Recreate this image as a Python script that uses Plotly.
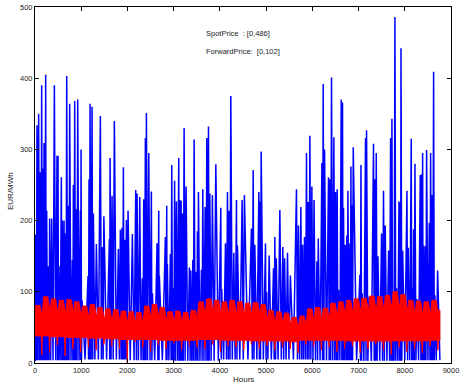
import plotly.graph_objects as go

# ---- Spot price spikes (hour, EUR/MWh) ----
spike_hours = [14, 43, 79, 115, 144, 173, 195, 231, 253, 289, 317, 361, 419, 476, 498, 520, 570, 592, 628, 657,
               686, 722, 750, 808, 830, 859, 895, 924, 981, 996, 1018, 1147, 1169, 1191, 1234, 1263, 1328, 1414, 1458, 1490,
               1609, 1624, 1667, 1717, 1804, 1847, 1883, 1912, 1941, 1977, 2013, 2107, 2179, 2208, 2266, 2323, 2352, 2388, 2410, 2461,
               2518, 2540, 2641, 2677, 2690, 2821, 2850, 2864, 2929, 2959, 2990, 3020, 3060, 3110, 3132, 3161, 3190, 3226, 3269, 3341,
               3370, 3414, 3442, 3490, 3514, 3536, 3600, 3630, 3680, 3717, 3753, 3782, 3838, 3912, 4020, 4040, 4121, 4164, 4200, 4236,
               4301, 4359, 4380, 4481, 4530, 4683, 4720, 4756, 4843, 4865, 4893, 4987, 5010, 5066, 5160, 5189, 5220, 5297, 5362, 5400,
               5463, 5525, 5657, 5700, 5752, 5790, 5830, 5874, 5910, 5947, 5990, 6037, 6100, 6128, 6207, 6235, 6264, 6350, 6378, 6415,
               6466, 6502, 6538, 6567, 6625, 6653, 6675, 6711, 6747, 6770, 6812, 6835, 6857, 6885, 7030, 7052, 7080, 7151, 7173, 7230,
               7324, 7353, 7383, 7419, 7498, 7540, 7577, 7650, 7693, 7722, 7750, 7787, 7823, 7874, 7903, 7918, 7954, 8047, 8076, 8140,
               8162, 8191, 8220, 8263, 8335, 8364, 8386, 8407, 8443, 8472, 8530, 8559, 8588, 8624, 8653, 8710]
spike_values = [180, 334, 350, 268, 390, 273, 309, 405, 214, 136, 203, 203, 390, 291, 291, 136, 261, 200, 200, 182,
                403, 221, 364, 145, 250, 368, 216, 370, 214, 300, 88, 122, 258, 364, 360, 210, 167, 347, 163, 206,
                174, 288, 235, 340, 160, 187, 190, 275, 173, 201, 214, 181, 243, 238, 233, 119, 230, 316, 351, 295,
                241, 98, 168, 214, 123, 177, 221, 139, 153, 278, 105, 256, 227, 288, 229, 228, 210, 330, 248, 134,
                130, 145, 314, 128, 185, 240, 131, 244, 219, 316, 332, 238, 236, 279, 218, 104, 168, 240, 214, 375,
                155, 229, 165, 229, 236, 189, 271, 166, 240, 227, 297, 168, 100, 151, 133, 177, 147, 215, 163, 147,
                155, 123, 244, 193, 219, 166, 177, 295, 226, 319, 248, 229, 143, 175, 281, 392, 300, 261, 258, 401,
                317, 240, 244, 103, 370, 366, 218, 166, 179, 242, 168, 276, 222, 303, 124, 278, 98, 316, 327, 93,
                308, 258, 295, 150, 182, 242, 193, 158, 316, 343, 99, 486, 105, 227, 225, 442, 158, 242, 162, 315,
                106, 188, 280, 90, 264, 265, 295, 165, 164, 299, 197, 295, 236, 409, 95, 130]
# lowest spot level in each 1000-hour block
spot_floor = [4, 5, 4, 3, 5, 5, 4, 3, 4]
year_end = 8760

# ---- Forward price band, one value per week ----
fwd_peak = [81, 93, 90, 88, 89, 86, 80, 82, 78, 76, 75, 73, 72, 71, 80, 82, 78, 72, 73, 71,
            74, 86, 90, 88, 86, 88, 86, 84, 85, 82, 74, 72, 70, 64, 66, 76, 78, 77, 84, 86,
            88, 90, 91, 94, 93, 95, 100, 96, 88, 87, 86, 88]
fwd_top_dip = [68, 78, 76, 74, 75, 72, 67, 69, 65, 63, 62, 61, 60, 59, 66, 69, 65, 60, 61, 59,
               62, 72, 76, 74, 72, 74, 72, 70, 71, 68, 62, 60, 58, 53, 55, 63, 65, 64, 70, 72,
               74, 76, 77, 79, 78, 80, 84, 81, 74, 73, 72, 74]
fwd_base = [38, 38, 37, 37, 36, 36, 36, 35, 35, 34, 34, 33, 33, 33, 33, 33, 32, 32, 32, 32,
            32, 33, 33, 33, 32, 32, 32, 32, 31, 31, 31, 31, 31, 30, 32, 32, 32, 32, 32, 32,
            31, 31, 31, 31, 31, 31, 31, 31, 31, 31, 31, 32]
fwd_dip = [12, 14, 25, 10, 20, 15, 22, 18, 26, 24, 20, 0, 30, 22, 16, 25, 20, 28, 18, 24,
           22, 20, 26, 16, 24, 22, 18, 26, 20, 24, 18, 22, 20, 14, 26, 24, 18, 22, 16, 20,
           24, 14, 20, 26, 18, 12, 22, 16, 20, 14, 24, 18]
week_len = 168

# ---- build spot zig-zag ----
sx, sy = [0], [spot_floor[0]]
prev = 0
for h, v in zip(spike_hours, spike_values):
    mid = (prev + h) / 2
    sx.append(mid); sy.append(spot_floor[int(mid // 1000)])
    sx.append(h); sy.append(v)
    prev = h
sx.append(year_end); sy.append(spot_floor[-1])

# ---- build forward band polygon ----
ux, uy, lx, ly = [], [], [], []
for w in range(len(fwd_peak)):
    h0 = w * week_len
    for off, val in [(0, fwd_top_dip[w]), (18, fwd_peak[w]), (110, fwd_peak[w]), (145, fwd_top_dip[w])]:
        if h0 + off <= year_end:
            ux.append(h0 + off); uy.append(val)
    for off, val in [(0, fwd_base[w]), (135, fwd_base[w]), (148, fwd_dip[w]), (160, fwd_base[w])]:
        if h0 + off <= year_end:
            lx.append(h0 + off); ly.append(val)
ux.append(year_end); uy.append(fwd_top_dip[-1])
lx.append(year_end); ly.append(fwd_base[-1])
px = ux + lx[::-1]
py = uy + ly[::-1]

fig = go.Figure()
fig.add_trace(go.Scatter(x=sx, y=sy, mode="lines", line=dict(color="#0000FF", width=1.5),
                         name="SpotPrice", showlegend=False, hoverinfo="skip"))
fig.add_trace(go.Scatter(x=px, y=py, mode="lines", fill="toself", fillcolor="#FF0000",
                         line=dict(color="#FF0000", width=1), name="ForwardPrice",
                         showlegend=False, hoverinfo="skip"))

FAM = "Liberation Sans, Arial, sans-serif"
font_txt = dict(family=FAM, size=7.5, color="#222222")
fig.add_annotation(x=3650, y=463, xref="x", yref="y", text="SpotPrice  : [0,486]",
                   showarrow=False, xanchor="left", yanchor="middle", font=font_txt)
fig.add_annotation(x=3650, y=437, xref="x", yref="y", text="ForwardPrice:  [0,102]",
                   showarrow=False, xanchor="left", yanchor="middle", font=font_txt)
# axis titles
fig.add_annotation(x=0.5, y=0, xref="paper", yref="paper", text="Hours", showarrow=False,
                   xanchor="center", yanchor="middle", yshift=-16, font=dict(family=FAM, size=8, color="#222222"))
fig.add_annotation(x=0, y=0.5, xref="paper", yref="paper", text="EUR/MWh", showarrow=False, textangle=-90,
                   xanchor="center", yanchor="middle", xshift=-25, yshift=-6,
                   font=dict(family=FAM, size=8, color="#222222"))

axis_common = dict(showgrid=False, zeroline=False, showline=True, linecolor="black", linewidth=1,
                   mirror="ticks", ticks="inside", ticklen=4, tickcolor="black", automargin=False,
                   tickfont=dict(family=FAM, size=7.5, color="#222222"))
fig.update_xaxes(range=[0, 9000], tickvals=list(range(0, 9001, 1000)), **axis_common)
fig.update_yaxes(range=[0, 500], tickvals=list(range(0, 501, 100)), **axis_common)
fig.update_layout(width=462, height=385, margin=dict(l=35, r=11, t=7, b=22),
                  paper_bgcolor="white", plot_bgcolor="white", showlegend=False)
fig.write_html("out.html", config={"displayModeBar": False},
               post_script="document.body.style.margin='0';document.body.style.overflow='hidden';")
